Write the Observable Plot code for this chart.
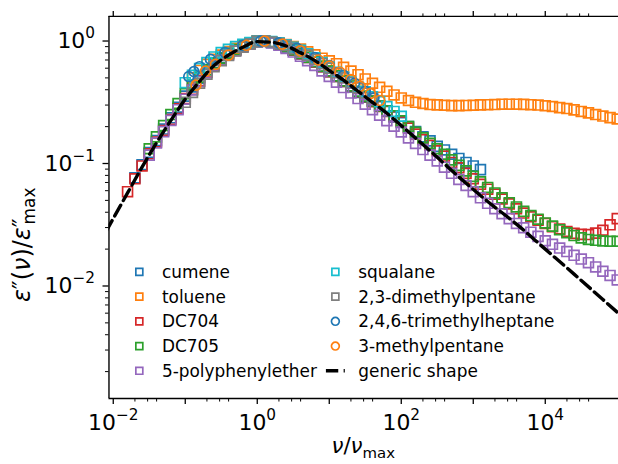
<!DOCTYPE html>
<html><head><meta charset="utf-8">
<script src="https://cdn.jsdelivr.net/npm/d3@7"></script>
<script src="https://cdn.jsdelivr.net/npm/@observablehq/plot@0.6"></script>
<style>
html,body{margin:0;padding:0;overflow:hidden;background:#fff;}
#chart{position:relative;width:618px;height:464px;overflow:hidden;}
</style></head><body><div id="chart"></div>
<script>
// ---- data: [nu/nu_max, eps''/eps''_max] ----
const cumene = [[0.02,0.0764],[0.0251,0.0977],[0.0316,0.123],[0.0398,0.154],[0.0501,0.191],[0.0631,0.236],[0.0794,0.288],[0.1,0.355],[0.126,0.422],[0.158,0.495],[0.2,0.582],[0.251,0.664],[0.316,0.733],[0.398,0.798],[0.501,0.855],[0.631,0.908],[0.794,0.955],[1,0.989],[1.26,0.995],[1.58,0.973],[2,0.938],[2.51,0.895],[3.16,0.841],[3.98,0.785],[5.01,0.733],[6.31,0.676],[7.94,0.617],[10,0.562],[12.6,0.513],[15.8,0.468],[20,0.422],[25.1,0.380],[31.6,0.347],[39.8,0.324],[50.1,0.295],[63.1,0.269],[79.4,0.240],[100,0.216],[126,0.200],[158,0.182],[200,0.165],[251,0.153],[316,0.138],[398,0.129],[501,0.119],[631,0.110],[794,0.102],[1000,0.0955],[1259,0.0891]];
const toluene = [[0.126,0.501],[0.158,0.575],[0.2,0.646],[0.251,0.708],[0.316,0.767],[0.398,0.822],[0.501,0.871],[0.631,0.923],[0.794,0.966],[1,0.995],[1.26,1.0],[1.58,0.986],[2,0.966],[2.51,0.938],[3.16,0.902],[3.98,0.861],[5.01,0.817],[6.31,0.771],[7.94,0.724],[10,0.689],[12.6,0.653],[15.8,0.610],[20,0.569],[25.1,0.531],[31.6,0.490],[39.8,0.452],[50.1,0.419],[63.1,0.389],[79.4,0.363],[100,0.343],[126,0.327],[158,0.316],[200,0.309],[251,0.303],[316,0.301],[398,0.299],[501,0.297],[631,0.297],[794,0.298],[1000,0.299],[1259,0.301],[1585,0.302],[1995,0.303],[2512,0.305],[3162,0.305],[3981,0.305],[5012,0.304],[6310,0.302],[7943,0.300],[10000,0.296],[12589,0.292],[15849,0.286],[19953,0.281],[25119,0.274],[31623,0.266],[39811,0.259],[50119,0.251],[63096,0.244],[79433,0.237],[100000,0.231]];
const dc704 = [[0.0158,0.0589],[0.02,0.075],[0.0251,0.0955],[0.0316,0.120],[0.0398,0.150],[0.0501,0.186],[0.0631,0.229],[0.0794,0.280],[0.1,0.339],[0.126,0.403],[0.158,0.473],[0.2,0.556],[0.251,0.638],[0.316,0.708],[0.398,0.776],[0.501,0.841],[0.631,0.902],[0.794,0.955],[1,0.993],[1.26,1.0],[1.58,0.977],[2,0.944],[2.51,0.902],[3.16,0.847],[3.98,0.789],[5.01,0.733],[6.31,0.676],[7.94,0.617],[10,0.562],[12.6,0.513],[15.8,0.468],[20,0.425],[25.1,0.385],[31.6,0.351],[39.8,0.320],[50.1,0.292],[63.1,0.266],[79.4,0.242],[100,0.219],[126,0.195],[158,0.174],[200,0.157],[251,0.141],[316,0.127],[398,0.115],[501,0.102],[631,0.0923],[794,0.0832],[1000,0.075],[1259,0.0676],[1585,0.0617],[1995,0.0562],[2512,0.0513],[3162,0.0468],[3981,0.0427],[5012,0.0394],[6310,0.0367],[7943,0.0345],[10000,0.0324],[12589,0.0305],[15849,0.0292],[19953,0.0279],[25119,0.0269],[31623,0.0264],[39811,0.0263],[50119,0.027],[63096,0.0285],[79433,0.0316],[100000,0.0355]];
const dc705 = [[0.0316,0.132],[0.0398,0.165],[0.0501,0.204],[0.0631,0.251],[0.0794,0.309],[0.1,0.372],[0.126,0.437],[0.158,0.507],[0.2,0.582],[0.251,0.661],[0.316,0.724],[0.398,0.791],[0.501,0.851],[0.631,0.908],[0.794,0.955],[1,0.993],[1.26,1.0],[1.58,0.977],[2,0.944],[2.51,0.902],[3.16,0.851],[3.98,0.794],[5.01,0.738],[6.31,0.681],[7.94,0.624],[10,0.569],[12.6,0.519],[15.8,0.473],[20,0.430],[25.1,0.389],[31.6,0.355],[39.8,0.324],[50.1,0.295],[63.1,0.269],[79.4,0.245],[100,0.223],[126,0.200],[158,0.180],[200,0.162],[251,0.146],[316,0.132],[398,0.119],[501,0.107],[631,0.0966],[794,0.0871],[1000,0.0785],[1259,0.0708],[1585,0.0638],[1995,0.0575],[2512,0.0525],[3162,0.0479],[3981,0.0442],[5012,0.0407],[6310,0.0376],[7943,0.0351],[10000,0.0327],[12589,0.0308],[15849,0.0288],[19953,0.0272],[25119,0.0258],[31623,0.0247],[39811,0.024],[50119,0.0236],[63096,0.0233],[79433,0.0232],[100000,0.0232]];
const ppe5 = [[0.0316,0.117],[0.0398,0.147],[0.0501,0.182],[0.0631,0.225],[0.0794,0.275],[0.1,0.335],[0.126,0.398],[0.158,0.468],[0.2,0.550],[0.251,0.631],[0.316,0.700],[0.398,0.767],[0.501,0.832],[0.631,0.891],[0.794,0.944],[1,0.989],[1.26,0.993],[1.58,0.966],[2,0.923],[2.51,0.871],[3.16,0.813],[3.98,0.750],[5.01,0.692],[6.31,0.631],[7.94,0.569],[10,0.513],[12.6,0.462],[15.8,0.417],[20,0.376],[25.1,0.339],[31.6,0.305],[39.8,0.275],[50.1,0.248],[63.1,0.224],[79.4,0.202],[100,0.181],[126,0.162],[158,0.146],[200,0.130],[251,0.117],[316,0.105],[398,0.0933],[501,0.0832],[631,0.0741],[794,0.0661],[1000,0.0589],[1259,0.0525],[1585,0.0473],[1995,0.0427],[2512,0.0389],[3162,0.0355],[3981,0.0324],[5012,0.0299],[6310,0.0275],[7943,0.0254],[10000,0.0234],[12589,0.0219],[15849,0.0204],[19953,0.0191],[25119,0.0178],[31623,0.0166],[39811,0.0155],[50119,0.0143],[63096,0.0132],[79433,0.0122],[100000,0.0112]];
const squalane = [[0.1,0.457],[0.126,0.525],[0.158,0.596],[0.2,0.668],[0.251,0.741],[0.316,0.804],[0.398,0.855],[0.501,0.902],[0.631,0.940],[0.794,0.973],[1,0.995],[1.26,1.0],[1.58,0.989],[2,0.966],[2.51,0.933],[3.16,0.891],[3.98,0.841],[5.01,0.785],[6.31,0.728],[7.94,0.668],[10,0.610],[12.6,0.556],[15.8,0.507],[20,0.462],[25.1,0.422],[31.6,0.385],[39.8,0.351],[50.1,0.320],[63.1,0.292],[79.4,0.266],[100,0.243]];
const dmp23 = [[0.1,0.316],[0.126,0.380],[0.158,0.452],[0.2,0.537],[0.251,0.617],[0.316,0.692],[0.398,0.762],[0.501,0.828],[0.631,0.891],[0.794,0.944],[1,0.989],[1.26,1.0],[1.58,0.982],[2,0.955],[2.51,0.918],[3.16,0.871],[3.98,0.818],[5.01,0.767],[6.31,0.711],[7.94,0.653],[10,0.600],[12.6,0.550],[15.8,0.501],[20,0.457],[25.1,0.414],[31.6,0.376],[39.8,0.340]];
const tmh246 = [[0.112,0.513],[0.132,0.562],[0.158,0.617],[0.224,0.708],[0.355,0.804],[0.631,0.923],[1.12,1.0],[2.0,0.966],[3.55,0.871],[6.31,0.733],[10,0.631],[15.8,0.525],[22.4,0.452],[31.6,0.389],[41.7,0.343]];
const mp3 = [[0.141,0.437],[0.191,0.569],[0.263,0.646],[0.398,0.767],[0.708,0.923],[1.26,1.0],[2.24,0.944],[3.98,0.832],[7.08,0.700],[10,0.624],[14.1,0.556],[20,0.484],[26.9,0.427],[37.2,0.372],[50.1,0.327]];
const genericShape = [[0.00794,0.0279],[0.0158,0.0575],[0.0251,0.0933],[0.0398,0.147],[0.0631,0.225],[0.1,0.335],[0.158,0.468],[0.251,0.631],[0.398,0.767],[0.631,0.891],[1,0.989],[1.58,0.977],[2.51,0.912],[3.98,0.804],[6.31,0.692],[10,0.575],[15.8,0.479],[25.1,0.389],[39.8,0.316],[63.1,0.257],[100,0.204],[251,0.127],[631,0.0776],[1585,0.049],[3981,0.032],[10000,0.02],[25119,0.0125],[63096,0.00776],[112202,0.00575]];

const seriesNames = ["cumene","toluene","DC704","DC705","5-polyphenylether","squalane","2,3-dimethylpentane","2,4,6-trimethylheptane","3-methylpentane"];
const seriesData = [cumene, toluene, dc704, dc705, ppe5, squalane, dmp23, tmh246, mp3];
const seriesColors = ["#1f77b4","#ff7f0e","#d62728","#2ca02c","#9467bd","#17becf","#7f7f7f","#1f77b4","#ff7f0e"];
const seriesSymbols = ["square","square","square","square","square","square","square","circle","circle"];
const genericLabel = "generic shape";

const xLabeledTicks = [0.01, 1, 100, 10000];
const xLabeledText = ["10^−2", "10^0", "10^2", "10^4"];
const xOtherDecades = [0.1, 10, 1000];
const xMinorTicks = [0.02,0.03,0.04,0.2,0.3,0.4,2,3,4,20,30,40,200,300,400,2000,3000,4000,20000,30000,40000];
const yLabeledTicks = [0.01, 0.1, 1];
const yLabeledText = ["10^−2", "10^−1", "10^0"];
const yMinorTicks = [0.002,0.003,0.004,0.005,0.006,0.007,0.008,0.009,0.02,0.03,0.04,0.05,0.06,0.07,0.08,0.09,0.2,0.3,0.4,0.5,0.6,0.7,0.8,0.9];
const xDomain = [0.00872, 1.04e5];
const yDomain = [0.001205, 1.588];

// ---- chart ----
const xFmt = new Map(xLabeledTicks.map((d, i) => [d, xLabeledText[i]]));
const yFmt = new Map(yLabeledTicks.map((d, i) => [d, yLabeledText[i]]));
const tickW = 1.3;
const tickFont = 22;

const marks = [];
seriesData.forEach((data, i) => {
  const isSq = seriesSymbols[i] === "square";
  marks.push(Plot.dot(data, {
    x: d => d[0], y: d => d[1],
    symbol: seriesSymbols[i],
    r: isSq ? 5.6 : 5.0,
    stroke: seriesColors[i], fill: "none", strokeWidth: 1.7, clip: true
  }));
});
marks.push(Plot.line(genericShape, {
  x: d => d[0], y: d => d[1], stroke: "black", strokeWidth: 3.4,
  strokeDasharray: "12.4,5.4", curve: "monotone-x", clip: true
}));
marks.push(
  Plot.axisX(xLabeledTicks, {anchor: "bottom", tickSize: 6, tickPadding: 10, strokeWidth: tickW, tickFormat: d => xFmt.get(d), label: null, fontSize: tickFont}),
  Plot.axisX(xOtherDecades, {anchor: "bottom", tickSize: 6, strokeWidth: tickW, tickFormat: () => "", label: null}),
  Plot.axisX(xMinorTicks, {anchor: "bottom", tickSize: 3.5, strokeWidth: 1.0, tickFormat: () => "", label: null}),
  Plot.axisX(xLabeledTicks.concat(xOtherDecades), {anchor: "top", tickSize: 6, strokeWidth: tickW, tickFormat: () => "", label: null}),
  Plot.axisX(xMinorTicks, {anchor: "top", tickSize: 3.5, strokeWidth: 1.0, tickFormat: () => "", label: null}),
  Plot.axisY(yLabeledTicks, {anchor: "left", tickSize: 6, tickPadding: 8, strokeWidth: tickW, tickFormat: d => yFmt.get(d), label: null, fontSize: tickFont}),
  Plot.axisY(yMinorTicks, {anchor: "left", tickSize: 3.5, strokeWidth: 1.0, tickFormat: () => "", label: null}),
  Plot.ruleX([xDomain[0]], {stroke: "black", strokeWidth: 1.4}),
  Plot.ruleY([yDomain[0]], {stroke: "black", strokeWidth: 1.4}),
  Plot.ruleY([yDomain[1]], {stroke: "black", strokeWidth: 1.4})
);

const svg = Plot.plot({
  width: 621, height: 464,
  marginLeft: 109, marginRight: 0, marginTop: 16, marginBottom: 64,
  style: {fontFamily: "DejaVu Sans", fontSize: "17px", background: "white", color: "black"},
  x: {type: "log", domain: xDomain},
  y: {type: "log", domain: yDomain},
  marks
});
document.getElementById("chart").appendChild(svg);

const s = d3.select(svg);
// superscripts on tick labels
s.selectAll("text").each(function() {
  const m = /^10\^(.+)$/.exec(this.textContent);
  if (!m) return;
  const t = d3.select(this);
  t.text("10");
  t.append("tspan").attr("dy", "-10px").attr("font-size", (tickFont * 0.7) + "px").text(m[1]);
});

// axis labels
const xl = s.append("text").attr("x", 365).attr("y", 455).attr("text-anchor", "middle")
  .attr("font-family", "DejaVu Sans").attr("font-size", 21.5).attr("fill", "black");
xl.append("tspan").attr("font-style", "italic").text("ν");
xl.append("tspan").text("/");
xl.append("tspan").attr("font-style", "italic").text("ν");
xl.append("tspan").attr("dy", "5px").attr("font-size", "15px").text("max");

const yl = s.append("text").attr("transform", "translate(30,246) rotate(-90)").attr("text-anchor", "middle")
  .attr("font-family", "DejaVu Sans").attr("font-size", 24).attr("fill", "black");
yl.append("tspan").attr("font-style", "italic").text("ε");
yl.append("tspan").text("″(");
yl.append("tspan").attr("font-style", "italic").text("ν");
yl.append("tspan").text(")/");
yl.append("tspan").attr("font-style", "italic").text("ε");
yl.append("tspan").text("″");
yl.append("tspan").attr("dx", "-6px").attr("dy", "5px").attr("font-size", "17px").text("max");

// legend
const legendItems = seriesNames.map((n, i) => ({name: n, color: seriesColors[i], symbol: seriesSymbols[i]}))
  .concat([{name: genericLabel, color: "black", symbol: "line"}]);
const lg = s.append("g").attr("font-family", "DejaVu Sans").attr("font-size", 17).attr("text-anchor", "start");
legendItems.forEach((it, i) => {
  const col = Math.floor(i / 5), row = i % 5;
  const mx = col === 0 ? 140 : 337, tx = col === 0 ? 162.7 : 360;
  const y = 273.2 + row * 24.85;
  if (it.symbol === "line") {
    lg.append("line").attr("x1", mx - 9.5).attr("x2", mx + 9.5).attr("y1", y).attr("y2", y)
      .attr("stroke", "black").attr("stroke-width", 3.4).attr("stroke-dasharray", "12.4,5.4");
  } else {
    const sym = it.symbol === "square" ? d3.symbolSquare : d3.symbolCircle;
    lg.append("path").attr("d", d3.symbol(sym, 49)()).attr("transform", `translate(${mx},${y})`)
      .attr("fill", "none").attr("stroke", it.color).attr("stroke-width", 1.7);
  }
  lg.append("text").attr("x", tx).attr("y", y + 6).attr("text-anchor", "start").attr("fill", "black").text(it.name);
});
</script></body></html>
